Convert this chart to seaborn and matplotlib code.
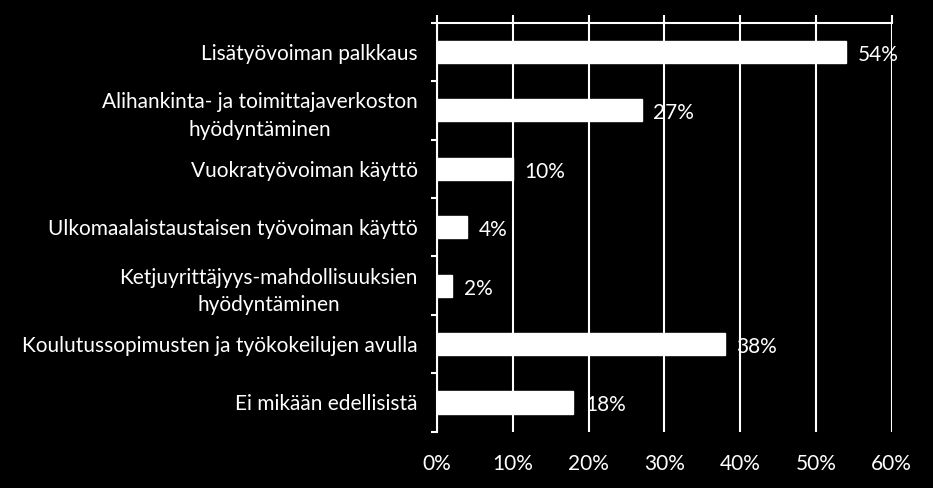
import pandas as pd
import matplotlib.pyplot as plt
import seaborn as sns

# Data
categories = [
    'Lisätyövoiman palkkaus',
    'Alihankinta- ja toimittajaverkoston\nhyödyntäminen',
    'Vuokratyövoiman käyttö',
    'Ulkomaalaistaustaisen työvoiman käyttö',
    'Ketjuyrittäjyys-mahdollisuuksien\nhyödyntäminen',
    'Koulutussopimusten ja työkokeilujen avulla',
    'Ei mikään edellisistä',
]
shares = [54, 27, 10, 4, 2, 38, 18]
xticks = [0, 10, 20, 30, 40, 50, 60]

df = pd.DataFrame({'category': categories, 'share': shares})

sns.set_theme(style='dark')
plt.rcParams['font.family'] = ['Lato', 'DejaVu Sans']

fig = plt.figure(figsize=(9.33, 4.88), dpi=100, facecolor='black')
ax = fig.add_axes([0.4684, 0.1154, 0.9557 - 0.4684, 0.9535 - 0.1154])
ax.set_facecolor('black')

sns.barplot(data=df, x='share', y='category', color='white', width=0.38,
            saturation=1, ax=ax, zorder=3)

ax.set_xlim(0, 60)
ax.set_ylim(len(categories) - 0.5, -0.5)
ax.set_xticks(xticks)
ax.set_xticklabels([f'{t}%' for t in xticks])
ax.set_xlabel('')
ax.set_ylabel('')

# vertical gridlines, axis line at the top, labels at the bottom
ax.grid(axis='x', color='white', linewidth=1.5, zorder=1)
ax.grid(axis='y', visible=False)
for side in ['bottom', 'right']:
    ax.spines[side].set_visible(False)
for side in ['top', 'left']:
    ax.spines[side].set_color('white')
    ax.spines[side].set_linewidth(1.5)

ax.tick_params(axis='x', top=True, bottom=False, labeltop=False, labelbottom=True,
               direction='out', length=5.8, width=1.5, color='white',
               labelcolor='white', labelsize=15, pad=10)

# y ticks sit at category boundaries
ax.set_yticks([i - 0.5 for i in range(len(categories) + 1)], minor=True)
ax.tick_params(axis='y', which='minor', left=True, length=4.3, width=1.5, color='white')
ax.tick_params(axis='y', which='major', left=False, length=0, pad=14,
               labelcolor='white', labelsize=15)
for lbl in ax.get_yticklabels():
    lbl.set_multialignment('center')
    lbl.set_linespacing(1.45)

for i, v in enumerate(shares):
    ax.text(v + 1.5, i + 0.05, f'{v}%', color='white', fontsize=15,
            va='center', ha='left', zorder=4)

fig.savefig('out.png', dpi=100, facecolor='black')
